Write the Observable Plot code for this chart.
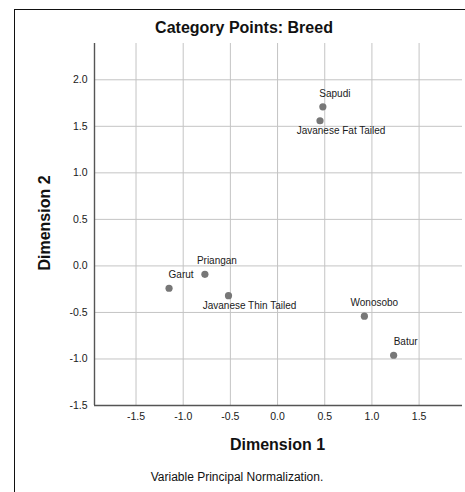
<!DOCTYPE html>
<html>
<head>
<meta charset="utf-8">
<script src="https://cdn.jsdelivr.net/npm/d3@7"></script>
<script src="https://cdn.jsdelivr.net/npm/@observablehq/plot@0.6"></script>
<style>
  html, body { margin: 0; padding: 0; background: #fff; width: 465px; height: 492px; overflow: hidden; }
  body { position: relative; font-family: "Liberation Sans", Arial, sans-serif; color: #111; }
  #frame { position: absolute; left: 14px; top: 9px; width: 470px; height: 500px; border-left: 1.6px solid #111; border-top: 1.6px solid #111; box-sizing: border-box; }
  #chart { position: absolute; left: 0; top: 0; }
  .lbl { position: absolute; font-weight: bold; font-size: 16px; white-space: nowrap; }
  #title { left: 0; width: 488px; top: 19px; text-align: center; }
  #xlabel { left: 0; width: 555px; top: 436px; text-align: center; }
  #ylabel { left: 45px; top: 223px; transform: translate(-50%, -50%) rotate(-90deg); }
  #caption { position: absolute; left: 0; width: 474px; top: 470px; text-align: center; font-size: 12px; }
</style>
</head>
<body>
<div id="frame"></div>
<div id="chart"></div>
<div id="title" class="lbl">Category Points: Breed</div>
<div id="ylabel" class="lbl">Dimension 2</div>
<div id="xlabel" class="lbl">Dimension 1</div>
<div id="caption">Variable Principal Normalization.</div>
<script>
const breeds = ["Sapudi", "Javanese Fat Tailed", "Priangan", "Garut", "Javanese Thin Tailed", "Wonosobo", "Batur"];
const dim1 = [0.48, 0.45, -0.77, -1.15, -0.52, 0.92, 1.23];
const dim2 = [1.71, 1.56, -0.09, -0.24, -0.32, -0.54, -0.96];
const xTicks = [-1.5, -1.0, -0.5, 0.0, 0.5, 1.0, 1.5];
const yTicks = [-1.5, -1.0, -0.5, 0.0, 0.5, 1.0, 1.5, 2.0];
const xDomain = [-1.94, 1.96];
const yDomain = [-1.5, 2.39];

const data = breeds.map((name, i) => ({name, x: dim1[i], y: dim2[i]}));

// label placement offsets (px) relative to each point
const labelOffsets = {
  "Sapudi": [12, -13],
  "Javanese Fat Tailed": [21, 10],
  "Priangan": [12, -13],
  "Garut": [12, -13],
  "Javanese Thin Tailed": [21, 10],
  "Wonosobo": [10, -13],
  "Batur": [12, -13]
};

const fmt = d => d.toFixed(1);

const labelMarks = data.map(d => Plot.text([d], {
  x: "x", y: "y", text: "name",
  dx: labelOffsets[d.name][0], dy: labelOffsets[d.name][1],
  fontSize: 10, fill: "#1a1a1a", textAnchor: "middle"
}));

const chart = Plot.plot({
  width: 465,
  height: 430,
  marginLeft: 94,
  marginRight: 3,
  marginTop: 43,
  marginBottom: 25,
  style: {fontFamily: "'Liberation Sans', Arial, sans-serif", background: "transparent", color: "#1a1a1a"},
  x: {domain: xDomain},
  y: {domain: yDomain},
  marks: [
    Plot.gridX(xTicks, {stroke: "#c4c4c4", strokeOpacity: 1, strokeWidth: 1}),
    Plot.gridY(yTicks, {stroke: "#c4c4c4", strokeOpacity: 1, strokeWidth: 1}),
    Plot.ruleX([xDomain[0]], {stroke: "#555", strokeWidth: 1.4}),
    Plot.ruleY([yDomain[0]], {stroke: "#555", strokeWidth: 1.4}),
    Plot.axisX({ticks: xTicks, tickSize: 0, tickPadding: 7, tickFormat: fmt, fontSize: 10.5, label: null}),
    Plot.axisY({ticks: yTicks, tickSize: 0, tickPadding: 7, tickFormat: fmt, fontSize: 10.5, label: null}),
    Plot.dot(data, {x: "x", y: "y", r: 3.6, fill: "#777", stroke: "none"}),
    ...labelMarks
  ]
});
document.getElementById("chart").appendChild(chart);
</script>
</body>
</html>
